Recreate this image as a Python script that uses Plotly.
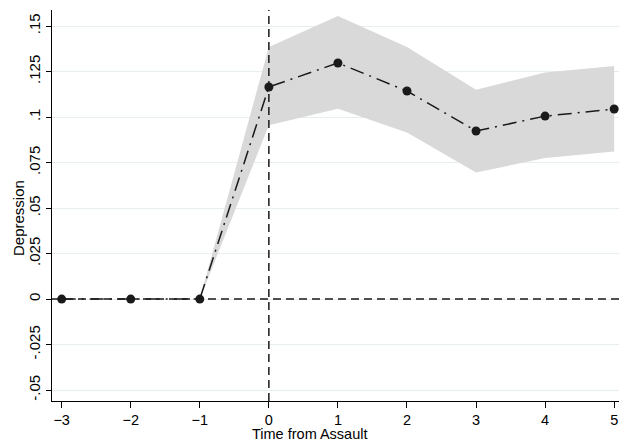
import plotly.graph_objects as go

periods = [-3, -2, -1, 0, 1, 2, 3, 4, 5]
coef = [0.0, 0.0, 0.0, 0.1165, 0.1297, 0.1143, 0.0923, 0.1005, 0.1044]
ci_low = [0.0, 0.0, 0.0, 0.0955, 0.1045, 0.0915, 0.0695, 0.0775, 0.0810]
ci_high = [0.0, 0.0, 0.0, 0.1385, 0.1555, 0.1385, 0.1150, 0.1245, 0.1280]
yticks = [-0.05, -0.025, 0, 0.025, 0.05, 0.075, 0.1, 0.125, 0.15]
ytick_labels = ["-.05", "-.025", "0", ".025", ".05", ".075", ".1", ".125", ".15"]
xticks = [-3, -2, -1, 0, 1, 2, 3, 4, 5]

W, H = 619, 443
L, R, T, B = 52, 0, 10, 42

fig = go.Figure()
fig.add_trace(go.Scatter(x=periods + periods[::-1], y=ci_high + ci_low[::-1],
                         fill="toself", fillcolor="#d9d9d9", line=dict(width=0),
                         mode="lines", hoverinfo="skip", showlegend=False))
fig.add_hline(y=0, line=dict(color="#1a1a1a", width=1.5, dash="8px,5px"))
fig.add_vline(x=0, line=dict(color="#1a1a1a", width=1.5, dash="8px,5px"))
fig.add_trace(go.Scatter(x=periods, y=coef, mode="lines+markers",
                         line=dict(color="#1a1a1a", width=1.5, dash="14px,6px,2px,6px"),
                         marker=dict(size=9, color="#1a1a1a"), showlegend=False))

plot_w = W - L - R
plot_h = H - T - B
fig.add_annotation(text="Time from Assault", xref="paper", yref="paper",
                   x=(W / 2 - L) / plot_w, y=-B / plot_h,
                   xanchor="center", yanchor="bottom", showarrow=False,
                   borderpad=0, font=dict(size=14.5))
fig.add_annotation(text="Depression", xref="paper", yref="paper",
                   x=-(L - 18) / plot_w, y=((H - B) - 218) / plot_h,
                   xanchor="center", yanchor="middle", textangle=-90, showarrow=False,
                   font=dict(size=15))

fig.update_layout(
    width=W, height=H, margin=dict(l=L, r=R, t=T, b=B),
    paper_bgcolor="white", plot_bgcolor="white",
    font=dict(family="Liberation Sans, Arial, sans-serif", size=15, color="black"),
    xaxis=dict(range=[-3.14, 5.07], tickvals=xticks, showgrid=False, zeroline=False,
               showline=True, linecolor="black", linewidth=1, ticks="outside",
               ticklen=6, tickcolor="black", ticklabelstandoff=0,
               tickfont=dict(size=14.5)),
    yaxis=dict(range=[-0.056, 0.1588], tickvals=yticks, ticktext=ytick_labels,
               tickangle=-90, showgrid=True, gridcolor="#e6eef0", gridwidth=1,
               zeroline=False, showline=True, linecolor="black", linewidth=1,
               ticks="outside", ticklen=5, tickcolor="black",
               tickfont=dict(size=15)),
)

fig.write_html("out.html")
